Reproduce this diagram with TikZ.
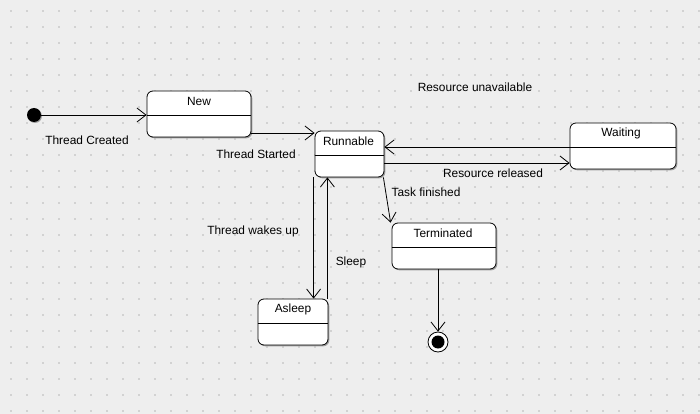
\documentclass[tikz,border=0pt]{standalone}
\usepackage{fontspec}
\setmainfont{Liberation Sans}
\usetikzlibrary{arrows.meta,calc}
\definecolor{CanvasGray}{HTML}{EEEEEE}
\definecolor{GridDot}{HTML}{D2D2D2}
\definecolor{ShadowGray}{HTML}{A0A0A0}
\newcommand{\statefont}{\fontsize{11.9}{13}\selectfont}
\tikzset{
  state/.style={draw=black,rounded corners=6pt,fill=white,line width=0.8pt,
              minimum height=46pt,inner sep=0pt,
              preaction={fill=ShadowGray,transform canvas={shift={(1.3pt,-1.3pt)}}}},
  statename/.style={inner sep=0pt,font=\statefont},
  divider/.style={line width=0.8pt},
  trans/.style={-{Straight Barb[length=9pt,width=14pt]},line width=0.8pt},
  note/.style={inner sep=1pt,font=\statefont}
}

\begin{document}
\begin{tikzpicture}[x=1pt,y=-1pt]
  \useasboundingbox (0,0) rectangle (700,414);
  \fill[CanvasGray] (0,0) rectangle (700,414);
  % dotted grid
  \foreach \i in {0,...,43}
    \foreach \j in {0,...,25}
      \fill[GridDot] ({10+16*\i},{10+16*\j}) rectangle ++(2,2);

  % states
  \node[state,minimum width=104pt] (new) at (199,114) {};
  \node[state,minimum width=69pt] (runnable) at (349.5,154) {};
  \node[state,minimum width=106pt] (waiting) at (623,146) {};
  \node[state,minimum width=104pt] (terminated) at (444,246) {};
  \node[state,minimum width=70pt] (asleep) at (293,322) {};

  \foreach \s in {new,runnable,waiting,terminated,asleep}
    \draw[divider] ($(\s.west)+(0,1)$) -- ($(\s.east)+(0,1)$);

  \node[statename] (newname) at ($(new.north)+(0,10.5)$) {New};
  \node[statename] (runnablename) at ($(runnable.north)+(-1,10.5)$) {Runnable};
  \node[statename] (waitingname) at ($(waiting.north)+(-2,10.5)$) {Waiting};
  \node[statename] (terminatedname) at ($(terminated.north)+(-1,10.5)$) {Terminated};
  \node[statename] (asleepname) at ($(asleep.north)+(0,10.5)$) {Asleep};

  % pseudo states
  \node[circle,fill=black,minimum size=14pt,inner sep=0pt,
        preaction={fill=ShadowGray,transform canvas={shift={(1pt,-1pt)}}}] (init) at (34,115) {};
  \node[circle,draw=black,fill=white,line width=0.8pt,minimum size=20pt,inner sep=0pt] (final) at (438,342) {};
  \node[circle,fill=black,minimum size=13pt,inner sep=0pt] (finaldot) at (final) {};

  % transitions
  \draw[trans] (init.east) -- (init -| new.west);

  \coordinate (startout) at ($(new.east)+(0,19)$);
  \draw[trans] (startout) -- (startout -| runnable.west);

  \coordinate (waitout) at ($(waiting.west)+(0,1)$);
  \draw[trans] (waitout) -- (waitout -| runnable.east);

  \coordinate (relout) at ($(runnable.east)+(0,9)$);
  \draw[trans] (relout) -- (relout -| waiting.west);

  \coordinate (wakeout) at ($(runnable.south west)+(-1,0)$);
  \draw[trans] (wakeout) -- (wakeout |- asleep.north);

  \coordinate (sleepout) at ($(asleep.north east)+(-1,0)$);
  \draw[trans] (sleepout) -- (sleepout |- runnable.south);

  \draw[trans] ($(runnable.south east)+(-1,0)$) -- ($(terminated.north west)+(-1,0)$);

  \draw[trans] (final |- terminated.south) -- (final.north);

  % labels
  \node[note] (createdlabel) at (87,140) {Thread Created};
  \node[note] (startedlabel) at (256,154) {Thread Started};
  \node[note] (unavaillabel) at (475,87) {Resource unavailable};
  \node[note] (releasedlabel) at (493,173) {Resource released};
  \node[note] (finishedlabel) at (426,192) {Task finished};
  \node[note] (wakelabel) at (253,231) {Thread wakes up};
  \node[note] (sleeplabel) at (351,262) {Sleep};
\end{tikzpicture}
\end{document}
